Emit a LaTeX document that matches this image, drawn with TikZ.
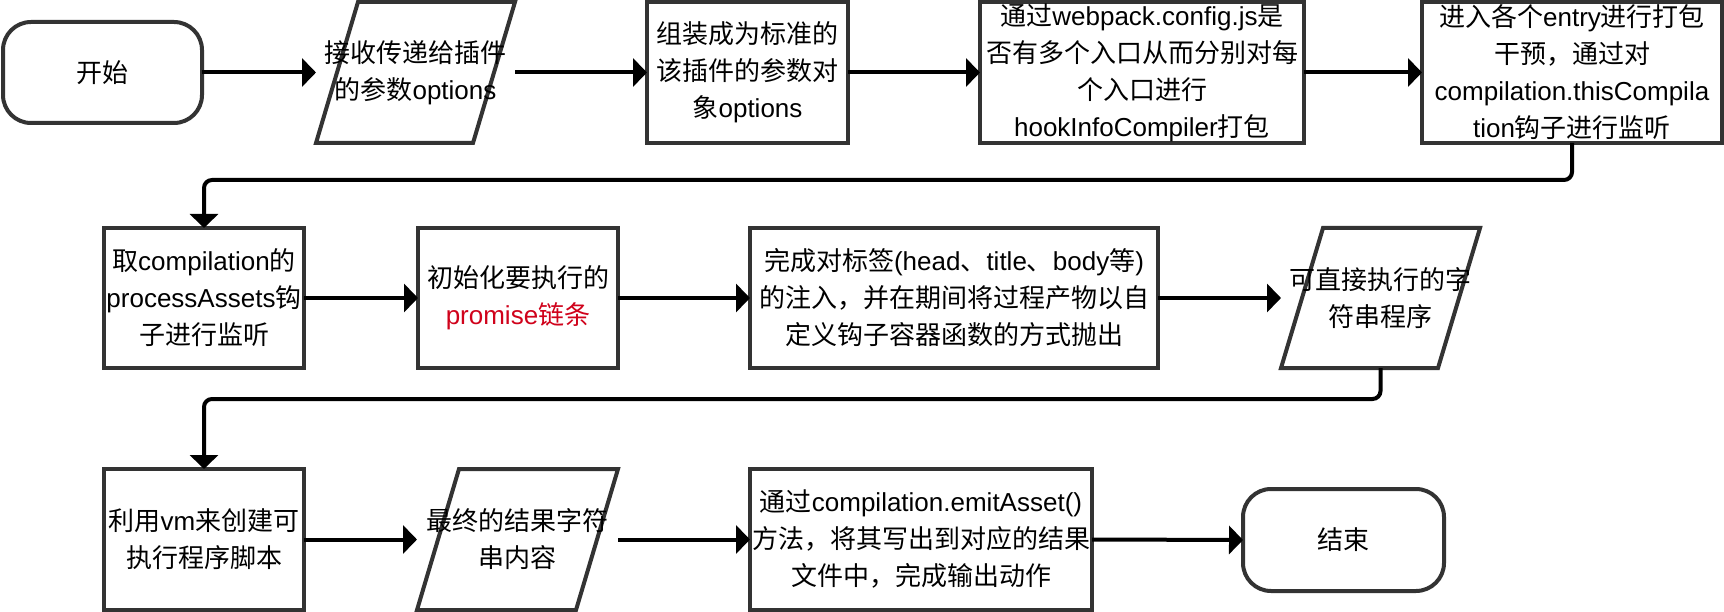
\documentclass[tikz,border=0pt]{standalone}
\usepackage{fontspec}
\setmainfont{Liberation Sans}
\newfontfamily\cjkfont{Noto Sans CJK SC}
\newcommand\zh[1]{{\cjkfont #1}}
\usetikzlibrary{arrows.meta}
\definecolor{boxc}{HTML}{333333}
\definecolor{redc}{HTML}{D0021B}
\tikzset{
  base/.style={inner sep=0pt, outer sep=0pt, align=center, font=\fontsize{26}{37}\selectfont, text=black},
  proc/.style={base, draw=boxc, line width=4pt, fill=white},
  term/.style={proc, rounded corners=28pt},
  io/.style={base},
  ioline/.style={draw=boxc, line width=4pt, line join=miter, fill=white},
  conn/.style={draw=black, line width=4pt, -{Triangle[length=14pt,width=28pt]}},
}
\begin{document}
\begin{tikzpicture}[x=1pt,y=-1pt]
\fill[white] (0,0) rectangle (1724,612);
\useasboundingbox (0,0) rectangle (1724,612);
% row 1
\node[term, minimum width=199pt, minimum height=101pt] (start) at (102.5,72.5) {\zh{开始}};
\node[io, minimum width=199pt, minimum height=141pt] (p1) at (415.5,72.5) {};
\node[proc, minimum width=201pt, minimum height=141pt] (b3) at (747.5,72.5) {\zh{组装成为标准的}\\\zh{该插件的参数对}\\\zh{象}options};
\node[proc, minimum width=324pt, minimum height=141pt] (b4) at (1142,72.5) {\zh{通过}webpack.config.js\zh{是}\\\zh{否有多个入口从而分别对每}\\\zh{个入口进行}\\hookInfoCompiler\zh{打包}};
\node[proc, minimum width=300pt, minimum height=141pt] (b5) at (1572,72.5) {\zh{进入各个}entry\zh{进行打包}\\\zh{干预，通过对}\\compilation.thisCompila\\tion\zh{钩子进行监听}};
% row 2
\node[proc, minimum width=200pt, minimum height=140pt] (b6) at (204,298) {\zh{取}compilation\zh{的}\\processAssets\zh{钩}\\\zh{子进行监听}};
\node[proc, minimum width=200pt, minimum height=140pt] (b7) at (518,298) {\zh{初始化要执行的}\\\textcolor{redc}{promise\zh{链条}}};
\node[proc, minimum width=408pt, minimum height=140pt] (b8) at (954,298) {\zh{完成对标签}(head\zh{、}title\zh{、}body\zh{等})\\\zh{的注入，并在期间将过程产物以自}\\\zh{定义钩子容器函数的方式抛出}};
\node[io, minimum width=199pt, minimum height=140pt] (p2) at (1380.5,298) {};
% row 3
\node[proc, minimum width=200pt, minimum height=141pt] (b9) at (204,539.5) {\zh{利用}vm\zh{来创建可}\\\zh{执行程序脚本}};
\node[io, minimum width=201pt, minimum height=141pt] (p3) at (517.5,539.5) {};
\node[proc, minimum width=342pt, minimum height=141pt] (b10) at (921,539.5) {\zh{通过}compilation.emitAsset()\\\zh{方法，将其写出到对应的结果}\\\zh{文件中，完成输出动作}};
\node[term, minimum width=201pt, minimum height=102pt] (end) at (1343.5,540) {\zh{结束}};
% parallelograms
\foreach \p in {p1,p2,p3}{
  \path[ioline] ([xshift=42pt]\p.north west) -- (\p.north east) -- ([xshift=-42pt]\p.south east) -- (\p.south west) -- cycle;
}
\node[io] at (p1) {\zh{接收传递给插件}\\\zh{的参数}options};
\node[io] at (p2) {\zh{可直接执行的字}\\\zh{符串程序}};
\node[io] at (p3) {\zh{最终的结果字符}\\\zh{串内容}};
% connectors
\coordinate (k1) at (204,180);
\coordinate (k2) at (204,399);
\draw[conn] (start.east) -- (p1.west);
\draw[conn] (p1.east) -- (b3.west);
\draw[conn] (b3.east) -- (b4.west);
\draw[conn] (b4.east) -- (b5.west);
\draw[conn, rounded corners=8pt] (b5.south) -- (b5.south |- k1) -- (k1) -- (b6.north);
\draw[conn] (b6.east) -- (b7.west);
\draw[conn] (b7.east) -- (b8.west);
\draw[conn] (b8.east) -- (p2.west);
\draw[conn, rounded corners=8pt] (p2.south) -- (p2.south |- k2) -- (k2) -- (b9.north);
\draw[conn] (b9.east) -- (p3.west);
\draw[conn] (p3.east) -- (b10.west);
\draw[conn] (b10.east) -- (end.west);
\end{tikzpicture}
\end{document}
